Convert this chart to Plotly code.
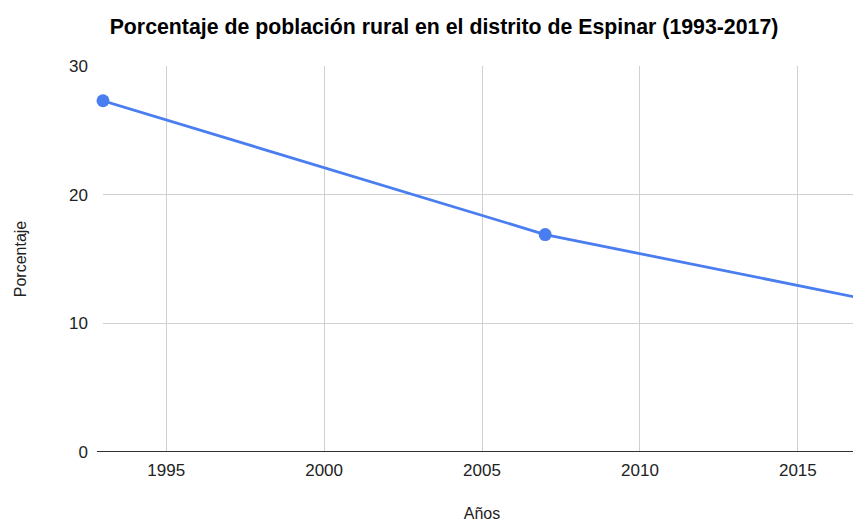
import plotly.graph_objects as go

years = [1993, 2007, 2017]
pct = [27.3, 16.9, 11.95]
x_ticks = [1995, 2000, 2005, 2010, 2015]
y_ticks = [0, 10, 20, 30]

fig = go.Figure()
fig.add_trace(go.Scatter(
    x=years, y=pct, mode="lines+markers",
    line=dict(color="#4a7ef0", width=2.8),
    marker=dict(color="#4a7ef0", size=13),
    cliponaxis=False, showlegend=False,
))

fig.update_layout(
    width=853, height=514,
    margin=dict(l=95, r=0, t=58, b=70),
    paper_bgcolor="white", plot_bgcolor="white",
    font=dict(family="Liberation Sans, Arial, sans-serif", color="#222", size=17),
    title=dict(text="<b>Porcentaje de población rural en el distrito de Espinar (1993-2017)</b>",
               x=436/853, xanchor="center", y=1-19/514, yanchor="middle",
               font=dict(size=21.3, color="#000")),
    xaxis=dict(range=[1993, 2017], tickvals=x_ticks, showgrid=True, gridcolor="#d0d0d0",
               gridwidth=1, zeroline=False, showline=False, ticks="",
               ticklabelstandoff=6,
               tickfont=dict(size=17, color="#222"),
               title=dict(text="Años", font=dict(size=16, color="#222"), standoff=31)),
    yaxis=dict(range=[0, 30], tickvals=y_ticks, showgrid=True, gridcolor="#d0d0d0",
               gridwidth=1, zeroline=False, showline=False, ticks="",
               ticklabelstandoff=14,
               tickfont=dict(size=17, color="#222"),
               title=dict(text="Porcentaje", font=dict(size=16, color="#222"), standoff=38)),
)
fig.add_shape(type="line", xref="paper", yref="y", x0=-0.008, x1=1, y0=0, y1=0,
              line=dict(color="#333", width=2))

fig.write_html("out.html")
